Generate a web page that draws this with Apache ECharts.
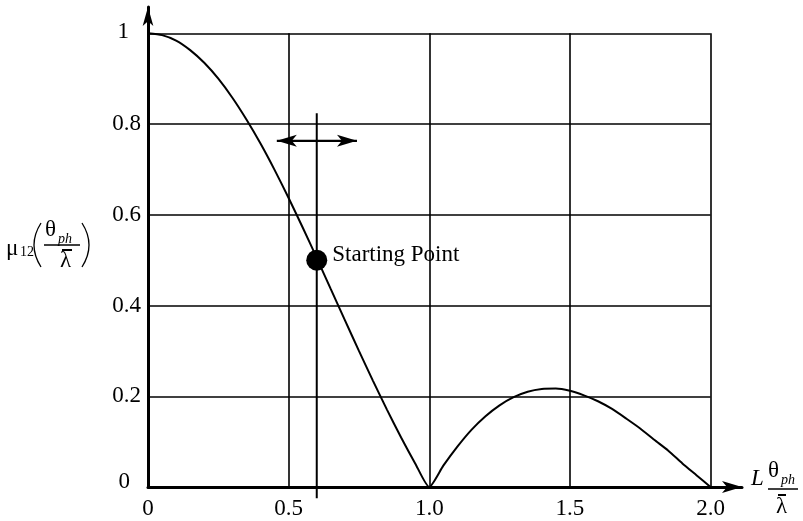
<!DOCTYPE html>
<html>
<head>
<meta charset="utf-8">
<script src="https://cdn.jsdelivr.net/npm/echarts@6/dist/echarts.min.js"></script>
<style>
  html, body { margin: 0; padding: 0; background: #fff; }
  #chart { width: 803px; height: 521px; }
</style>
</head>
<body>
<div id="chart"></div>
<script>
// Normalised coherence curve sampled along L·θph/λ̄
const xValues = [0, 0.05, 0.1, 0.15, 0.2, 0.25, 0.3, 0.35, 0.4, 0.45, 0.5,
  0.55, 0.6, 0.65, 0.7, 0.75, 0.8, 0.85, 0.9, 0.95, 1.0,
  1.05, 1.1, 1.15, 1.2, 1.25, 1.3, 1.35, 1.4, 1.45, 1.5,
  1.55, 1.6, 1.65, 1.7, 1.75, 1.8, 1.85, 1.9, 1.95, 2.0];
const muValues = [1.0, 0.996, 0.984, 0.963, 0.935, 0.900, 0.858, 0.810, 0.757, 0.699, 0.637,
  0.572, 0.505, 0.436, 0.368, 0.300, 0.234, 0.170, 0.109, 0.052, 0.0,
  0.047, 0.089, 0.126, 0.156, 0.180, 0.198, 0.210, 0.216, 0.217, 0.212,
  0.202, 0.189, 0.172, 0.151, 0.129, 0.104, 0.080, 0.052, 0.026, 0.0];

// Starting point on the curve
const startPoint = [0.6, 0.5];
const startLabel = 'Starting Point';

// Vertical marker through the starting point
const markerLine = [[0.6, 0.824], [0.6, -0.025]];
// Horizontal double arrow, tip to tip
const shiftArrow = [[0.458, 0.763], [0.743, 0.763]];

// Tick values and labels
const xTickValues = [0, 0.5, 1.0, 1.5, 2.0];
const xTickLabels = ['0', '0.5', '1.0', '1.5', '2.0'];
const yTickValues = [0, 0.2, 0.4, 0.6, 0.8, 1.0];
const yTickLabels = ['{zero|0}', '0.2', '0.4', '0.6', '0.8', '{one|1}'];

const FONT = '"Liberation Serif", "Times New Roman", serif';

function tickFormatter(values, labels) {
  return function (v) {
    for (let i = 0; i < values.length; i++) {
      if (Math.abs(v - values[i]) < 1e-6) return labels[i];
    }
    return '';
  };
}

// Grid lines stop at the last tick on each axis
const gridSegments = [];
xTickValues.slice(1).forEach(function (x) {
  gridSegments.push([{ coord: [x, 0] }, { coord: [x, yTickValues[yTickValues.length - 1]] }]);
});
yTickValues.slice(1).forEach(function (y) {
  gridSegments.push([{ coord: [0, y] }, { coord: [xTickValues[xTickValues.length - 1], y] }]);
});

const chart = echarts.init(document.getElementById('chart'), null, { renderer: 'canvas' });

function txt(text, x, y, size, opts) {
  opts = opts || {};
  return {
    type: 'text',
    silent: true,
    style: {
      text: text, x: x, y: y,
      font: (opts.italic ? 'italic ' : '') + size + 'px ' + FONT,
      fill: '#000',
      textAlign: opts.align || 'left',
      textVerticalAlign: 'middle'
    }
  };
}
function bar(x1, x2, y, w) {
  return {
    type: 'line', silent: true,
    shape: { x1: x1, y1: y, x2: x2, y2: y },
    style: { stroke: '#000', lineWidth: w || 1.5 }
  };
}
function paren(x, yTop, yBottom, bulge) {
  return {
    type: 'bezierCurve', silent: true,
    shape: { x1: x, y1: yTop, x2: x, y2: yBottom, cpx1: x + bulge, cpy1: (yTop + yBottom) / 2 },
    style: { stroke: '#000', lineWidth: 1.3, fill: null }
  };
}

const option = {
  animation: false,
  backgroundColor: '#fff',
  grid: { left: 148, right: 61, top: 7, bottom: 34, containLabel: false },
  xAxis: {
    type: 'value', min: 0, max: 2.112, interval: 0.5,
    axisLine: {
      show: true, onZero: false,
      symbol: ['none', 'arrow'], symbolSize: [9, 20],
      lineStyle: { color: '#000', width: 3 }
    },
    axisTick: { show: false },
    splitLine: { show: false },
    axisLabel: {
      color: '#000', fontFamily: FONT, fontSize: 23, margin: 10,
      formatter: tickFormatter(xTickValues, xTickLabels)
    }
  },
  yAxis: {
    type: 'value', min: 0, max: 1.058, interval: 0.2,
    axisLine: {
      show: true, onZero: false,
      symbol: ['none', 'arrow'], symbolSize: [8, 19],
      lineStyle: { color: '#000', width: 3 }
    },
    axisTick: { show: false },
    splitLine: { show: false },
    axisLabel: {
      color: '#000', fontFamily: FONT, fontSize: 23, margin: 7,
      formatter: tickFormatter(yTickValues, yTickLabels),
      rich: {
        zero: { color: '#000', fontFamily: FONT, fontSize: 23, padding: [0, 11, 10, 0] },
        one: { color: '#000', fontFamily: FONT, fontSize: 23, padding: [0, 12, 2, 0] }
      }
    }
  },
  series: [
    {
      name: 'grid',
      type: 'line',
      data: [],
      silent: true,
      markLine: {
        silent: true,
        symbol: ['none', 'none'],
        label: { show: false },
        lineStyle: { color: '#000', width: 1.6, type: 'solid' },
        emphasis: { disabled: true },
        data: gridSegments
      }
    },
    {
      name: 'shiftLine',
      type: 'line',
      data: shiftArrow,
      showSymbol: false,
      symbol: 'none',
      silent: true,
      lineStyle: { color: '#000', width: 2.2 }
    },
    {
      // arrow symbols are anchored at their tips
      name: 'shiftHeads',
      type: 'scatter',
      silent: true,
      symbol: 'arrow',
      symbolSize: [9, 20],
      itemStyle: { color: '#000', opacity: 1 },
      data: [
        { value: shiftArrow[0], symbolRotate: 90 },
        { value: shiftArrow[1], symbolRotate: -90 }
      ],
      z: 4
    },
    {
      name: 'marker',
      type: 'line',
      data: markerLine,
      clip: false,
      showSymbol: false,
      symbol: 'none',
      silent: true,
      lineStyle: { color: '#000', width: 2 }
    },
    {
      name: 'mu12',
      type: 'line',
      data: xValues.map(function (x, i) { return [x, muValues[i]]; }),
      showSymbol: false,
      symbol: 'none',
      smooth: 0.2,
      silent: true,
      lineStyle: { color: '#000', width: 2 },
      z: 3
    },
    {
      name: 'start',
      type: 'scatter',
      data: [startPoint],
      symbol: 'circle',
      symbolSize: 21,
      silent: true,
      itemStyle: { color: '#000', opacity: 1 },
      label: {
        show: true, position: 'right', distance: 5, offset: [0, -5],
        formatter: startLabel,
        color: '#000', fontFamily: FONT, fontSize: 23
      },
      z: 4
    }
  ],
  graphic: [
    // y-axis name: μ12(θph / λ̄)
    txt('μ', 6, 249, 23),
    txt('12', 20, 252, 14),
    paren(41, 223, 267, -14),
    txt('θ', 45, 230, 23),
    txt('ph', 58, 239, 14, { italic: true }),
    bar(44, 80, 245, 1.5),
    bar(62, 72, 250, 2),
    txt('λ', 60, 261, 23),
    paren(82, 223, 267, 14),
    // x-axis name: L θph / λ̄
    txt('L', 751, 479, 23, { italic: true }),
    txt('θ', 768, 471, 23),
    txt('ph', 781, 480, 14, { italic: true }),
    bar(768, 798, 489, 1.5),
    bar(778, 786, 495, 2),
    txt('λ', 776, 507, 23)
  ]
};

chart.setOption(option);
</script>
</body>
</html>
